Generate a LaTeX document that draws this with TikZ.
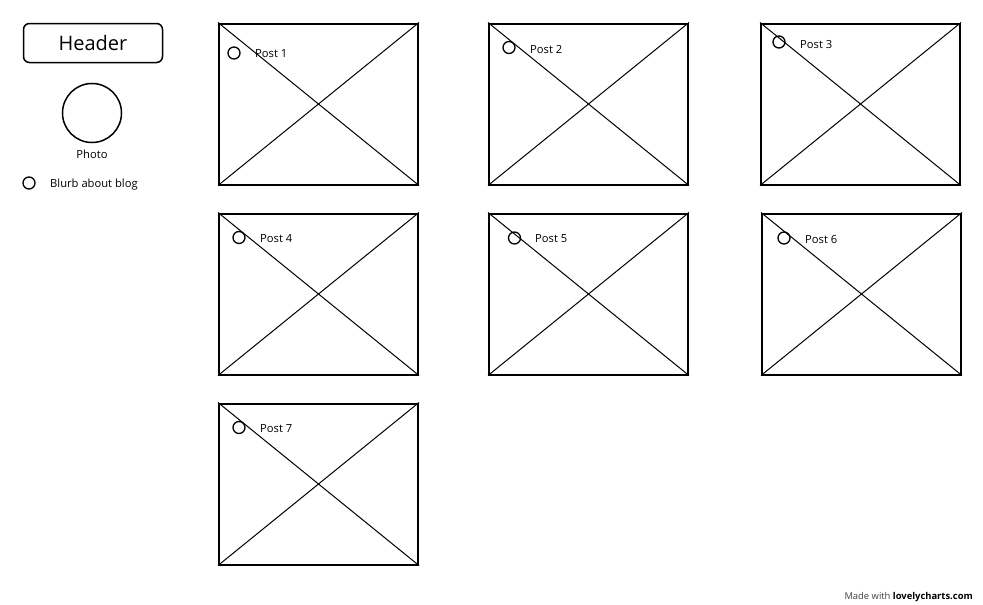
\documentclass[tikz,border=0pt]{standalone}
\usepackage{fontspec}
\setmainfont{Open Sans}
\begin{document}
\begin{tikzpicture}[x=1pt,y=-1pt,
  postbox/.style={draw,line width=2pt,minimum width=199pt,minimum height=161pt,inner sep=0pt,anchor=north west},
  diag/.style={line width=1pt},
  dot/.style={circle,draw,line width=1.3pt,minimum size=12pt,inner sep=0pt},
  smalldot/.style={circle,draw,line width=1.3pt,minimum size=12pt,inner sep=0pt},
  lbl/.style={anchor=west,inner sep=0pt,font=\fontsize{11.2}{13}\selectfont},
  hdr/.style={draw,line width=1.5pt,rounded corners=6pt,minimum width=139pt,minimum height=39pt,inner sep=0pt,font=\fontsize{20}{23}\selectfont},
  photo/.style={circle,draw,line width=1.5pt,minimum size=59pt,inner sep=0pt}
]
\useasboundingbox (0,0) rectangle (983,605);
\fill[white] (0,0) rectangle (983,605);

% left column
\node[hdr] (header) at (93,43) {Header};
\node[photo] (photo) at (92,113) {};
\node[lbl,anchor=center] (photolbl) at (92,154.5) {Photo};
\node[smalldot] (blurbdot) at (29,183) {};
\node[lbl] (blurb) at (50,184.5) {Blurb about blog};

% posts
\foreach \n/\x/\y/\cx/\cy/\tx/\ty in {
  1/218/22.5/234/53/255/54,
  2/488/22.5/509/47.5/530/49,
  3/760/22.5/779/42/800/44,
  4/218/212.5/239/237.5/260/239,
  5/488/212.5/514.5/238/535/239,
  6/761/212.5/784/238/805/239,
  7/218/402.5/239/427.5/260/429}{
  \node[postbox] (p\n) at (\x,\y) {};
  \draw[diag] (p\n.north west) -- (p\n.south east);
  \draw[diag] (p\n.south west) -- (p\n.north east);
  \node[dot] (d\n) at (\cx,\cy) {};
  \node[lbl] (t\n) at (\tx,\ty) {Post \n};
}

\node[anchor=east,inner sep=0pt,font=\fontsize{9.4}{11}\selectfont] (footer) at (973,597) {\textcolor{black!75}{Made with} \textbf{lovelycharts.com}};
\end{tikzpicture}
\end{document}
